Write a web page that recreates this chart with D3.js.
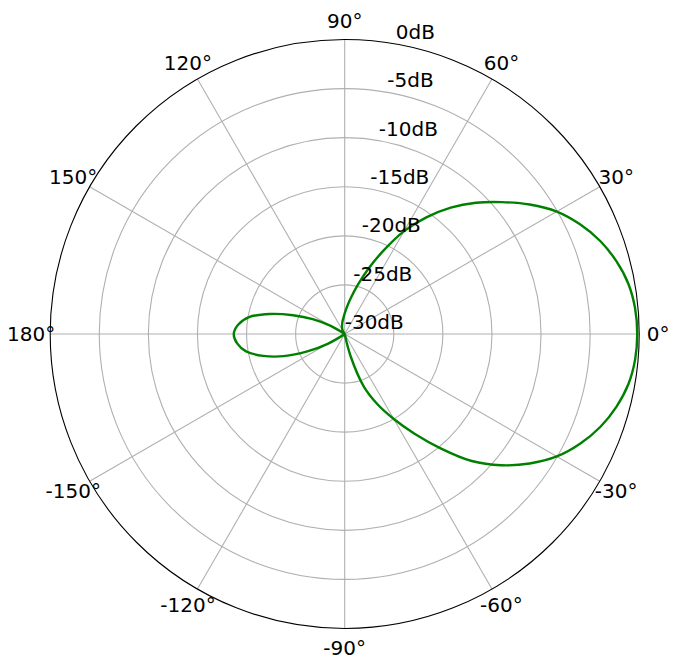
<!DOCTYPE html>
<html><head><meta charset="utf-8">
<script src="https://cdn.jsdelivr.net/npm/d3@7"></script>
<style>
body{margin:0;background:#fff}
svg{display:block}
text{font-family:"DejaVu Sans",sans-serif;font-size:20px;fill:#000}
</style>
</head><body>
<svg id="c" width="677" height="665"></svg>
<script>
// ---- data (angle in degrees, counter-clockwise from east; gain in dB) ----
const angles = [0,5,10,15,20,25,30,35,40,45,50,55,60,65,70,75,80,85,90,95,100,105,110,115,120,125,130,135,140,145,150,155,160,165,170,175,180,185,190,195,200,205,210,215,220,225,230,235,240,245,250,255,260,265,270,275,280,285,290,295,300,305,310,315,320,325,330,335,340,345,350,355];
const gainDb = [-0.2,-0.3,-0.65,-1.35,-2.3,-3.55,-5.05,-7.0,-9.1,-11.1,-13.2,-15.5,-17.9,-20.6,-22.9,-24.8,-26.2,-27.2,-27.9,-28.4,-28.7,-29.0,-29.2,-29.4,-29.6,-29.8,-30,-30,-30,-29.9,-28.3,-26.4,-24.4,-22.1,-20.1,-19.1,-18.7,-19.0,-19.8,-21.4,-23.4,-25.8,-28.0,-29.8,-30,-30,-30,-30,-30,-30,-30,-30,-30,-30,-30,-30,-30,-27.6,-24.3,-22.1,-20.0,-17.6,-14.8,-11.7,-9.2,-7.0,-5.05,-3.55,-2.3,-1.35,-0.65,-0.3];
const thetaTicks = [0,30,60,90,120,150,180,210,240,270,300,330];
const thetaLabels = ["0°","30°","60°","90°","120°","150°","180°","-150°","-120°","-90°","-60°","-30°"];
const rTicks = [-30,-25,-20,-15,-10,-5,0];
const rLabels = ["-30dB","-25dB","-20dB","-15dB","-10dB","-5dB","0dB"];

// ---- layout ----
const cx = 344.7, cy = 334, R = 294.5;
const rLabelAngle = 80;
const rad = d => d * Math.PI / 180;

const r = d3.scaleLinear().domain([-30, 0]).range([0, R]).clamp(true);
const svg = d3.select("#c");
const g = svg.append("g").attr("transform", `translate(${cx},${cy})`);

// rings
g.append("g").selectAll("circle")
  .data(rTicks.filter(d => d > -30 && d < 0))
  .join("circle")
  .attr("r", d => r(d))
  .attr("fill", "none").attr("stroke", "#b0b0b0").attr("stroke-width", 1.1);

// spokes
g.append("g").selectAll("line")
  .data(thetaTicks)
  .join("line")
  .attr("x1", 0).attr("y1", 0)
  .attr("x2", d => R * Math.cos(rad(d)))
  .attr("y2", d => -R * Math.sin(rad(d)))
  .attr("stroke", "#b0b0b0").attr("stroke-width", 1.1);

// outer frame
g.append("circle").attr("r", R).attr("fill", "none").attr("stroke", "#000").attr("stroke-width", 1.1);

// pattern curve
const pts = angles.map((a, i) => ({a, v: gainDb[i]}));
const line = d3.lineRadial()
  .angle(d => rad(90 - d.a))
  .radius(d => r(d.v))
  .curve(d3.curveCatmullRomClosed.alpha(0.5));
g.append("path").attr("d", line(pts))
  .attr("fill", "none").attr("stroke", "#008000").attr("stroke-width", 2.4)
  .attr("stroke-linejoin", "round");

// theta labels
g.append("g").selectAll("text")
  .data(thetaTicks)
  .join("text")
  .attr("x", d => (R + 19) * Math.cos(rad(d)))
  .attr("y", d => -(R + 19) * Math.sin(rad(d)) + 7)
  .attr("text-anchor", "middle")
  .text((d, i) => thetaLabels[i]);

// radial labels
g.append("g").selectAll("text")
  .data(rTicks)
  .join("text")
  .attr("x", d => r(d) * Math.cos(rad(rLabelAngle)))
  .attr("y", d => -r(d) * Math.sin(rad(rLabelAngle)) - 5)
  .attr("text-anchor", "start")
  .text((d, i) => rLabels[i]);
</script>
</body></html>
